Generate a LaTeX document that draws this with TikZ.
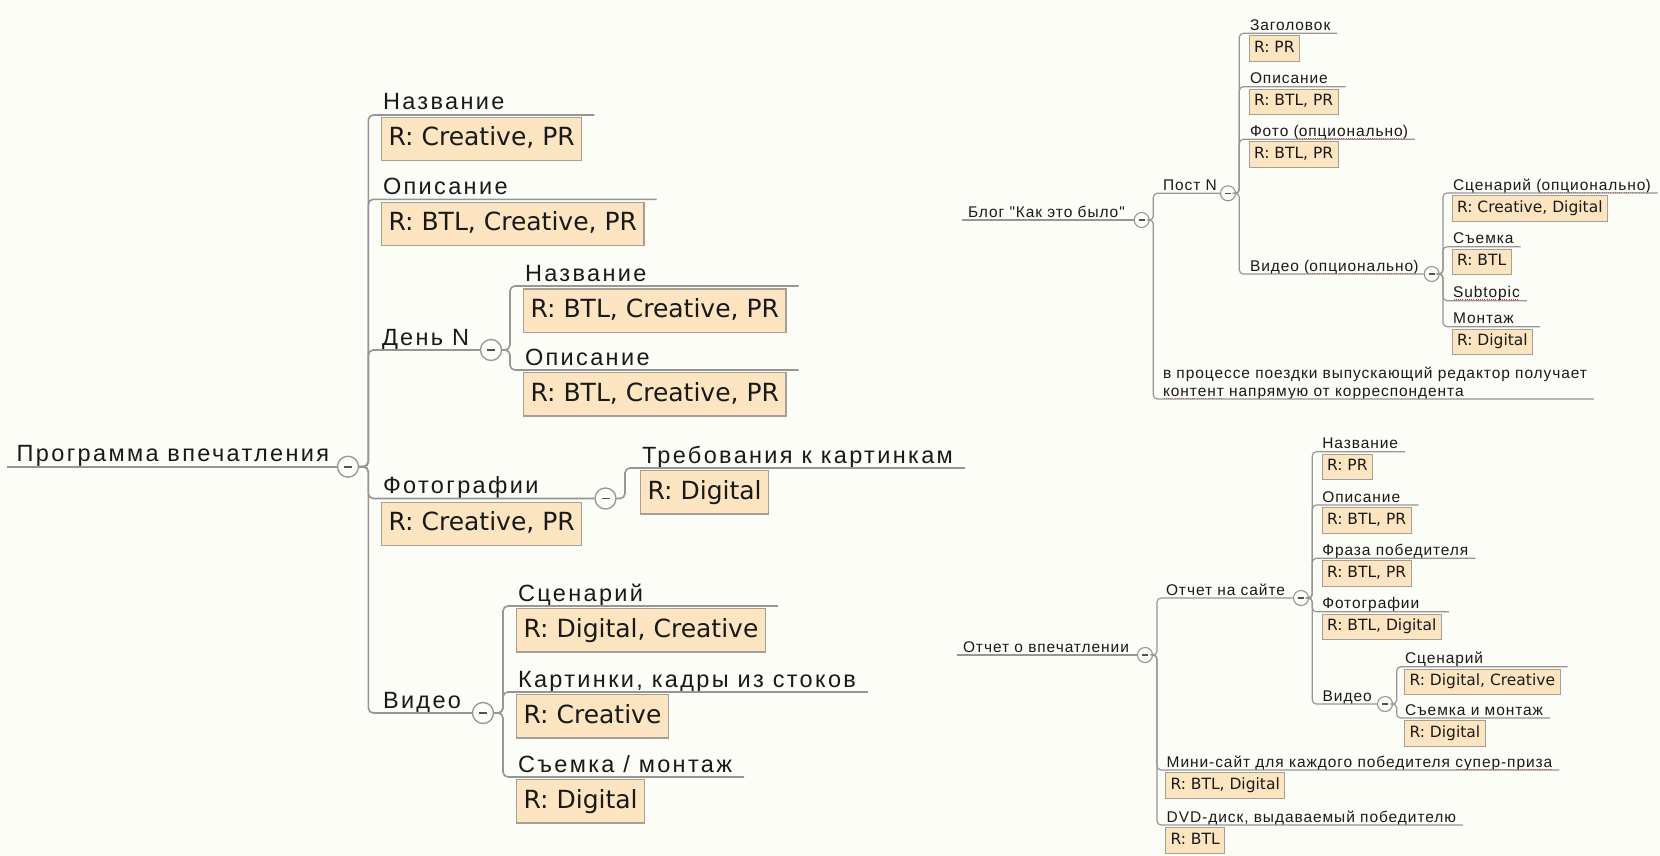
\documentclass[tikz,border=0pt]{standalone}
\usepackage{fontspec}
\setmainfont{Liberation Sans}
\newfontfamily\tfam[LetterSpace=10]{Liberation Sans}
\newfontfamily\tfamR[LetterSpace=6]{Liberation Sans}
\newfontfamily\lfam{DejaVu Sans}
\usetikzlibrary{calc}
\definecolor{bg}{RGB}{253,253,248}
\definecolor{conn}{RGB}{150,150,150}
\definecolor{boxfill}{RGB}{252,229,192}
\definecolor{boxline}{RGB}{165,160,150}
\definecolor{txt}{RGB}{25,25,25}
\definecolor{spell}{RGB}{220,40,40}
\newsavebox\spbox
\newcommand\sperr[1]{\sbox\spbox{#1}\rlap{\raisebox{-2.8pt}[0pt][0pt]{\color{spell}\leaders\hbox to 2.2pt{\hss\rule{1.1pt}{1.1pt}\hss}\hskip\wd\spbox}}\usebox\spbox}
\tikzset{
 topL/.style={anchor=base west, inner sep=0pt, outer sep=0pt, text=txt, font=\tfam\fontsize{23.5}{28}\selectfont},
 topR/.style={anchor=base west, inner sep=0pt, outer sep=0pt, text=txt, font=\tfamR\fontsize{15.5}{18}\selectfont},
 labL/.style={anchor=north west, draw=boxline, line width=1.2pt, fill=boxfill, text=txt, font=\lfam\fontsize{25}{29}\selectfont, inner xsep=7pt, inner ysep=0pt, minimum height=43.3pt, text height=18.5pt, text depth=5pt},
 labR/.style={anchor=north west, draw=boxline, line width=1pt, fill=boxfill, text=txt, font=\lfam\fontsize{15.5}{18}\selectfont, inner xsep=5pt, inner ysep=0pt, minimum height=25.5pt, text height=11.5pt, text depth=3.5pt},
 lnL/.style={draw=conn, line width=1.6pt, rounded corners=5pt},
 lnR/.style={draw=conn, line width=1.2pt, rounded corners=4pt},
 colL/.style={circle, draw=conn, line width=1.3pt, fill=bg, minimum size=21pt, inner sep=0pt,
   path picture={\draw[line width=1.6pt, draw=txt!75] ([xshift=-4pt]path picture bounding box.center) -- ([xshift=4pt]path picture bounding box.center);}},
 colR/.style={circle, draw=conn, line width=1.1pt, fill=bg, minimum size=15pt, inner sep=0pt,
   path picture={\draw[line width=1.2pt, draw=txt!75] ([xshift=-2.8pt]path picture bounding box.center) -- ([xshift=2.8pt]path picture bounding box.center);}},
}
% #1 parent circle, #2 trunk x, #3 parent y, #4 child y, #5 text node, #6 box node
\newcommand\brL[6]{\draw[lnL] let \p1=(#5.east),\p2=(#6.east) in (#1.east) -- (#2,#3) -- (#2,#4) -- ({max(\x1,\x2)+12},#4);}
\newcommand\brLc[5]{\draw[lnL] (#1.east) -- (#2,#3) -- (#2,#4) -- (#5.west);}
\newcommand\brR[6]{\draw[lnR] let \p1=(#5.east),\p2=(#6.east) in (#1.east) -- (#2,#3) -- (#2,#4) -- ({max(\x1,\x2)+7},#4);}
\newcommand\brRc[5]{\draw[lnR] (#1.east) -- (#2,#3) -- (#2,#4) -- (#5.west);}
\begin{document}
\begin{tikzpicture}[x=1pt,y=-1pt]
\fill[bg] (0,0) rectangle (1660,856);
\useasboundingbox (0,0) rectangle (1660,856);
% ---------------- left map ----------------
\node[topL] (rootL) at (16.7,461.7) {Программа впечатления};
\node[colL] (cR) at (348,466.7) {};
\node[topL] (L1) at (383,110) {Название};
\node[labL] (L1b) at (381,117) {R: Creative, PR};
\node[topL] (L2) at (383,194.3) {Описание};
\node[labL] (L2b) at (381,201.5) {R: BTL, Creative, PR};
\node[topL] (L3) at (382,345) {День N};
\node[colL] (cD) at (491,350) {};
\node[topL] (L31) at (525,281) {Название};
\node[labL] (L31b) at (523,288.3) {R: BTL, Creative, PR};
\node[topL] (L32) at (525,365) {Описание};
\node[labL] (L32b) at (523,372) {R: BTL, Creative, PR};
\node[topL] (L4) at (383,493.5) {Фотографии};
\node[labL] (L4b) at (381,501.5) {R: Creative, PR};
\node[colL] (cF) at (605.5,498.5) {};
\node[topL] (L41) at (642,463) {Требования к картинкам};
\node[labL] (L41b) at (640,470) {R: Digital};
\node[topL] (L5) at (383,708) {Видео};
\node[colL] (cV) at (483,713) {};
\node[topL] (L51) at (518,601) {Сценарий};
\node[labL] (L51b) at (516,608) {R: Digital, Creative};
\node[topL] (L52) at (518,687) {Картинки, кадры из стоков};
\node[labL] (L52b) at (516,694) {R: Creative};
\node[topL] (L53) at (518,772) {Съемка / монтаж};
\node[labL] (L53b) at (516,779) {R: Digital};
\draw[lnL] (6.7,466.7) -- (cR.west);
\brL{cR}{368.3}{466.7}{115}{L1}{L1b}
\brL{cR}{368.3}{466.7}{199.3}{L2}{L2b}
\brLc{cR}{368.3}{466.7}{350}{cD}
\brLc{cR}{368.3}{466.7}{498.5}{cF}
\brLc{cR}{368.3}{466.7}{713}{cV}
\brL{cD}{510}{350}{286}{L31}{L31b}
\brL{cD}{510}{350}{370}{L32}{L32b}
\brL{cF}{625}{498.5}{468}{L41}{L41b}
\brL{cV}{503}{713}{606}{L51}{L51b}
\brL{cV}{503}{713}{692}{L52}{L52b}
\brL{cV}{503}{713}{777}{L53}{L53b}
% ---------------- right top map ----------------
\node[topR] (rB) at (968,217) {Блог "Как это было"};
\node[colR] (cB) at (1141.7,220) {};
\node[topR] (R1) at (1163,190.3) {Пост N};
\node[colR] (cP) at (1228,193.3) {};
\node[topR] (R11) at (1250,30.3) {Заголовок};
\node[labR] (R11b) at (1248.5,35.3) {R: PR};
\node[topR] (R12) at (1250,83.7) {Описание};
\node[labR] (R12b) at (1248.5,88.7) {R: BTL, PR};
\node[topR] (R13) at (1250,136.3) {Фото (\sperr{опционально})};
\node[labR] (R13b) at (1248.5,141.3) {R: BTL, PR};
\node[topR] (R14) at (1250,271) {Видео (\sperr{опционально})};
\node[colR] (cVo) at (1431.7,274) {};
\node[topR] (R141) at (1453,190) {Сценарий (\sperr{опционально})};
\node[labR] (R141b) at (1451.5,195) {R: Creative, Digital};
\node[topR] (R142) at (1453,243.7) {Съемка};
\node[labR] (R142b) at (1451.5,248.7) {R: BTL};
\node[topR] (R143) at (1453,297.7) {\sperr{Subtopic}};
\node[topR] (R144) at (1453,323.7) {Монтаж};
\node[labR] (R144b) at (1451.5,328.7) {R: Digital};
\node[topR] (R2a) at (1163,378) {в процессе поездки выпускающий редактор получает};
\node[topR] (R2b) at (1163,396) {\sperr{контент} напрямую от корреспондента};
\draw[lnR] (962,220) -- (cB.west);
\brRc{cB}{1153.3}{220}{193.3}{cP}
\brR{cB}{1153.3}{220}{399}{R2a}{R2b}
\brR{cP}{1239.3}{193.3}{33.3}{R11}{R11b}
\brR{cP}{1239.3}{193.3}{86.7}{R12}{R12b}
\brR{cP}{1239.3}{193.3}{139.3}{R13}{R13b}
\brRc{cP}{1239.3}{193.3}{274}{cVo}
\brR{cVo}{1443}{274}{193}{R141}{R141b}
\brR{cVo}{1443}{274}{246.7}{R142}{R142b}
\brR{cVo}{1443}{274}{300.7}{R143}{R143}
\brR{cVo}{1443}{274}{326.7}{R144}{R144b}
% ---------------- right bottom map ----------------
\node[topR] (rO) at (963,652) {Отчет о впечатлении};
\node[colR] (cO) at (1145,655) {};
\node[topR] (B1) at (1166,595) {Отчет на сайте};
\node[colR] (cS) at (1301,598) {};
\node[topR] (B11) at (1322.3,448.7) {Название};
\node[labR] (B11b) at (1321.5,453.7) {R: PR};
\node[topR] (B12) at (1322.3,502) {Описание};
\node[labR] (B12b) at (1321.5,507) {R: BTL, PR};
\node[topR] (B13) at (1322.3,555.3) {Фраза победителя};
\node[labR] (B13b) at (1321.5,560.3) {R: BTL, PR};
\node[topR] (B14) at (1322.3,608.7) {Фотографии};
\node[labR] (B14b) at (1321.5,613.7) {R: BTL, Digital};
\node[topR] (B15) at (1322.7,701) {Видео};
\node[colR] (cV2) at (1385,704) {};
\node[topR] (B151) at (1405,663.7) {Сценарий};
\node[labR] (B151b) at (1404,668.7) {R: Digital, Creative};
\node[topR] (B152) at (1405,715) {Съемка и монтаж};
\node[labR] (B152b) at (1404,720) {R: Digital};
\node[topR] (B2) at (1166.7,767) {Мини-сайт для каждого победителя \sperr{супер-приза}};
\node[labR] (B2b) at (1165,772) {R: BTL, Digital};
\node[topR] (B3) at (1166.7,822) {DVD-диск, выдаваемый победителю};
\node[labR] (B3b) at (1165,827) {R: BTL};
\draw[lnR] (957,655) -- (cO.west);
\brRc{cO}{1157}{655}{598}{cS}
\brR{cO}{1157}{655}{770}{B2}{B2b}
\brR{cO}{1157}{655}{825}{B3}{B3b}
\brR{cS}{1312.3}{598}{451.7}{B11}{B11b}
\brR{cS}{1312.3}{598}{505}{B12}{B12b}
\brR{cS}{1312.3}{598}{558.3}{B13}{B13b}
\brR{cS}{1312.3}{598}{611.7}{B14}{B14b}
\brRc{cS}{1312.3}{598}{704}{cV2}
\brR{cV2}{1396.7}{704}{666.7}{B151}{B151b}
\brR{cV2}{1396.7}{704}{718}{B152}{B152b}
\end{tikzpicture}
\end{document}
